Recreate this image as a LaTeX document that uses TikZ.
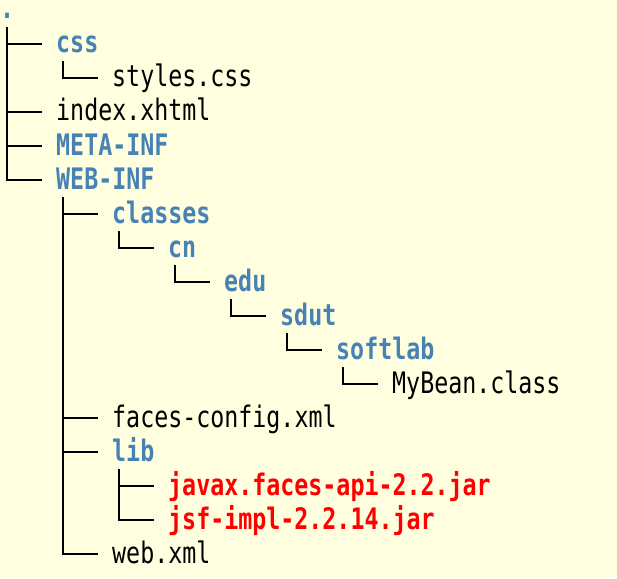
\documentclass[tikz,border=0pt]{standalone}
\usepackage{fontspec}
\usepackage{tikz}
\newfontfamily\treefont[FakeStretch=0.787]{DejaVu Sans Mono}
\definecolor{bgyellow}{RGB}{255,255,224}
\definecolor{dirblue}{RGB}{70,130,180}
\definecolor{jarred}{RGB}{255,0,0}
\tikzset{
  entry/.style={anchor=west,inner sep=0pt,text height=18pt,text depth=0pt,
    font=\treefont\fontsize{29.6pt}{34pt}\selectfont},
  dir/.style={entry,text=dirblue,font=\treefont\fontsize{29.6pt}{34pt}\selectfont\bfseries},
  jar/.style={entry,text=jarred,font=\treefont\fontsize{29.6pt}{34pt}\selectfont\bfseries},
  branch/.style={line width=2pt,black}
}

\begin{document}
\begin{tikzpicture}[x=14pt,y=-34pt]
\path[use as bounding box,fill=bgyellow] (0,-0.294) rectangle (44.07,16.706);
\node (root) at (0,0) [dir] {.};
\node (css) at (4,1) [dir] {css};
\node (styles) at (8,2) [entry] {styles.css};
\node (index) at (4,3) [entry] {index.xhtml};
\node (meta) at (4,4) [dir] {META-INF};
\node (webinf) at (4,5) [dir] {WEB-INF};
\node (classes) at (8,6) [dir] {classes};
\node (cn) at (12,7) [dir] {cn};
\node (edu) at (16,8) [dir] {edu};
\node (sdut) at (20,9) [dir] {sdut};
\node (softlab) at (24,10) [dir] {softlab};
\node (mybean) at (28,11) [entry] {MyBean.class};
\node (faces) at (8,12) [entry] {faces-config.xml};
\node (lib) at (8,13) [dir] {lib};
\node (api) at (12,14) [jar] {javax.faces-api-2.2.jar};
\node (impl) at (12,15) [jar] {jsf-impl-2.2.14.jar};
\node (webxml) at (8,16) [entry] {web.xml};
\draw [branch] ([xshift=7pt,yshift=-17pt]root.west) |- ([xshift=-14pt]css.west);
\draw [branch] ([xshift=7pt,yshift=-17pt]root.west) |- ([xshift=-14pt]index.west);
\draw [branch] ([xshift=7pt,yshift=-17pt]root.west) |- ([xshift=-14pt]meta.west);
\draw [branch] ([xshift=7pt,yshift=-17pt]root.west) |- ([xshift=-14pt]webinf.west);
\draw [branch] ([xshift=7pt,yshift=-17pt]css.west) |- ([xshift=-14pt]styles.west);
\draw [branch] ([xshift=7pt,yshift=-17pt]webinf.west) |- ([xshift=-14pt]classes.west);
\draw [branch] ([xshift=7pt,yshift=-17pt]webinf.west) |- ([xshift=-14pt]faces.west);
\draw [branch] ([xshift=7pt,yshift=-17pt]webinf.west) |- ([xshift=-14pt]lib.west);
\draw [branch] ([xshift=7pt,yshift=-17pt]webinf.west) |- ([xshift=-14pt]webxml.west);
\draw [branch] ([xshift=7pt,yshift=-17pt]classes.west) |- ([xshift=-14pt]cn.west);
\draw [branch] ([xshift=7pt,yshift=-17pt]cn.west) |- ([xshift=-14pt]edu.west);
\draw [branch] ([xshift=7pt,yshift=-17pt]edu.west) |- ([xshift=-14pt]sdut.west);
\draw [branch] ([xshift=7pt,yshift=-17pt]sdut.west) |- ([xshift=-14pt]softlab.west);
\draw [branch] ([xshift=7pt,yshift=-17pt]softlab.west) |- ([xshift=-14pt]mybean.west);
\draw [branch] ([xshift=7pt,yshift=-17pt]lib.west) |- ([xshift=-14pt]api.west);
\draw [branch] ([xshift=7pt,yshift=-17pt]lib.west) |- ([xshift=-14pt]impl.west);
\end{tikzpicture}
\end{document}
